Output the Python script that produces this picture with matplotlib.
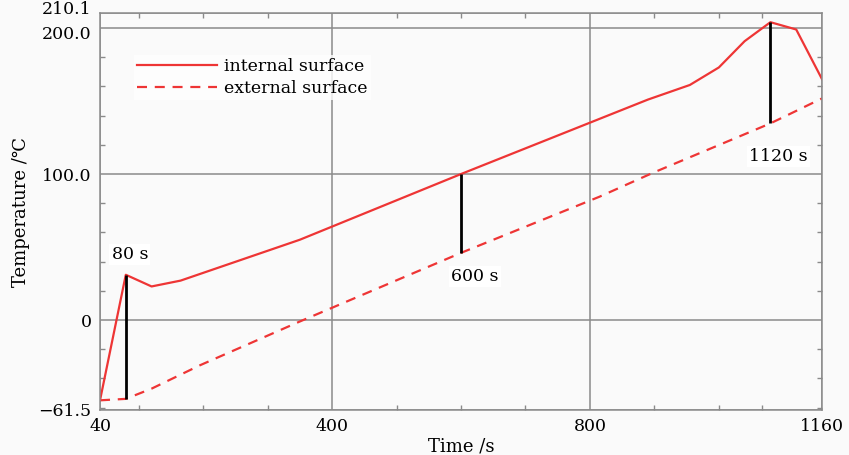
import matplotlib
matplotlib.use("Agg")
import matplotlib.pyplot as plt
import matplotlib.transforms as mtransforms
import numpy as np

plt.rcParams['font.family'] = ['DejaVu Serif', 'DejaVu Sans']
plt.rcParams['mathtext.fontset'] = 'dejavuserif'

# temperature history of the pipe wall
t_internal = [40, 80, 120, 165, 350, 600, 890, 955, 1000, 1060, 1120, 1140, 1160]
T_internal = [-55, 31, 23, 27, 55, 100, 151, 161, 173, 191, 204, 199, 165]

t_external = [40, 80, 120, 195, 350, 600, 815, 897, 1120, 1160]
T_external = [-55, -54, -47, -31, -1, 46, 84.5, 100.7, 134.7, 151.8]

mark_times = [80, 600, 1120]
mark_labels = ['80 s', '600 s', '1120 s']
mark_offsets = [(4, 20), (14, -24), (8, -33)]

x_ticks = [40, 400, 800, 1160]
y_ticks = [-61.5, 0, 100, 200, 210.1]
y_ticklabels = ['\u221261.5', '0', '100.0', '200.0', '210.1']

# time axis is stretched unevenly near the end of the run
time_knots = [40, 1000, 1120, 1160]
pos_knots = [40, 1000, 1080, 1160]


def fwd(t):
    return np.interp(t, time_knots, pos_knots)


def inv(p):
    return np.interp(p, pos_knots, time_knots)


bg = '#fafafa'
red = '#ee3535'
gray = '#8a8a8a'

fig = plt.figure(figsize=(8.49, 4.55), dpi=100, facecolor=bg)
ax = fig.add_axes([0.1178, 0.0993, 0.8504, 0.8715])
ax.set_facecolor(bg)
ax.set_xscale('function', functions=(fwd, inv))

ax.plot(t_internal, T_internal, color=red, lw=1.6, label='internal surface')
ax.plot(t_external, T_external, color=red, lw=1.6, dashes=(4.5, 3.5),
        label='external surface')

for t, lab, off in zip(mark_times, mark_labels, mark_offsets):
    lo = np.interp(t, t_external, T_external)
    hi = np.interp(t, t_internal, T_internal)
    ax.plot([t, t], [lo, hi], color='black', lw=2.0, solid_capstyle='butt')
    y0 = hi if off[1] > 0 else lo
    ax.annotate(lab, xy=(t, y0), xytext=off, textcoords='offset pixels',
                ha='center', va='center', fontsize=12.5,
                bbox=dict(facecolor='white', edgecolor='none', pad=1.5))

ax.set_xlim(40, 1160)
ax.set_ylim(-61.5, 210.1)
ax.set_xticks(x_ticks)
ax.set_xticklabels([str(x) for x in x_ticks])
ax.set_yticks(y_ticks)
ax.set_yticklabels(y_ticklabels)
ax.set_xticks(np.arange(100, 1160, 100), minor=True)
ax.set_yticks(np.arange(-60, 210, 20), minor=True)

ax.grid(which='major', color=gray, lw=1.1)
ax.tick_params(which='major', length=0, labelsize=12.5, pad=6)
ax.tick_params(which='minor', direction='in', length=3.5, width=1.0,
               color=gray, top=True, right=True)
for s in ax.spines.values():
    s.set_color(gray)
    s.set_linewidth(1.1)

# 200.0 and 210.1 sit close together, nudge them apart
ylabels = ax.get_yticklabels()
ylabels[3].set_transform(ylabels[3].get_transform() +
                         mtransforms.ScaledTranslation(0, -3 / 72, fig.dpi_scale_trans))
ylabels[4].set_transform(ylabels[4].get_transform() +
                         mtransforms.ScaledTranslation(0, 4 / 72, fig.dpi_scale_trans))

ax.set_xlabel('Time /s', fontsize=13, labelpad=2)
ax.set_ylabel('Temperature /\u2103', fontsize=13, labelpad=6)

leg = ax.legend(loc='upper left', bbox_to_anchor=(0.035, 0.917),
                fontsize=12.5, handlelength=4.6, handletextpad=0.4,
                labelspacing=0.25, borderpad=0.2, frameon=True,
                fancybox=False)
leg.get_frame().set_facecolor('white')
leg.get_frame().set_edgecolor('none')

fig.savefig('out.png', dpi=100, facecolor=bg)
